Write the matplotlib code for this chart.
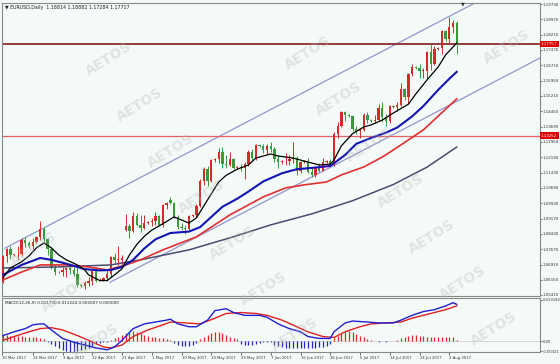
import numpy as np
import matplotlib
matplotlib.use("Agg")
import matplotlib.pyplot as plt

# EURUSD daily, 15 Mar - 4 Aug 2017 (the feed has short Sunday bars)
opens = [1.0605, 1.0733, 1.0765, 1.0740, 1.0742, 1.0745, 1.0810, 1.0795, 1.0782,
         1.0800, 1.0825, 1.0865, 1.0815, 1.0765, 1.0675,
         1.0652, 1.0655, 1.0665, 1.0675, 1.0662, 1.0645,
         1.0590, 1.0585, 1.0600, 1.0610, 1.0660, 1.0612,
         1.0615, 1.0625, 1.0645, 1.0730, 1.0715, 1.0715,
         1.0860, 1.0880, 1.0855, 1.0930, 1.0885, 1.0870,
         1.0895, 1.0900, 1.0905, 1.0930, 1.0885, 1.0985,
         1.1010, 1.0995, 1.0925, 1.0875, 1.0870, 1.0865,
         1.0930, 1.0935, 1.0980, 1.1100, 1.1160, 1.1100,
         1.1205, 1.1210, 1.1245, 1.1185, 1.1180, 1.1210,
         1.1165, 1.1170, 1.1165, 1.1185, 1.1245, 1.1215,
         1.1280, 1.1275, 1.1255, 1.1275, 1.1260, 1.1210,
         1.1195, 1.1200, 1.1200, 1.1210, 1.1215, 1.1150,
         1.1195, 1.1200, 1.1145, 1.1130, 1.1165, 1.1150,
         1.1195, 1.1200, 1.1180, 1.1335, 1.1375, 1.1440,
         1.1425, 1.1420, 1.1360, 1.1350, 1.1355, 1.1425,
         1.1400, 1.1395, 1.1400, 1.1460, 1.1415, 1.1395,
         1.1470, 1.1465, 1.1475, 1.1555, 1.1515, 1.1630,
         1.1665, 1.1660, 1.1645, 1.1645, 1.1735, 1.1680,
         1.1750, 1.1755, 1.1840, 1.1800, 1.1860, 1.18814]
highs = [1.0740, 1.0770, 1.0780, 1.0745, 1.0780, 1.0820, 1.0825, 1.0805, 1.0820,
         1.0830, 1.0906, 1.0875, 1.0820, 1.0775, 1.0695,
         1.0660, 1.0680, 1.0680, 1.0700, 1.0680, 1.0680,
         1.0595, 1.0610, 1.0630, 1.0665, 1.0680, 1.0625,
         1.0630, 1.0670, 1.0735, 1.0750, 1.0780, 1.0740,
         1.0940, 1.0890, 1.0950, 1.0945, 1.0935, 1.0935,
         1.0905, 1.0920, 1.0950, 1.0935, 1.0990, 1.1000,
         1.1025, 1.1000, 1.0935, 1.0895, 1.0885, 1.0935,
         1.0940, 1.0990, 1.1110, 1.1170, 1.1175, 1.1210,
         1.1215, 1.1265, 1.1270, 1.1230, 1.1245, 1.1215,
         1.1175, 1.1185, 1.1195, 1.1255, 1.1260, 1.1285,
         1.1285, 1.1285, 1.1285, 1.1295, 1.1270, 1.1230,
         1.1205, 1.1240, 1.1230, 1.1295, 1.1225, 1.1200,
         1.1205, 1.1215, 1.1165, 1.1175, 1.1190, 1.1215,
         1.1205, 1.1210, 1.1345, 1.1390, 1.1445, 1.1445,
         1.1430, 1.1425, 1.1375, 1.1365, 1.1435, 1.1440,
         1.1405, 1.1425, 1.1480, 1.1490, 1.1430, 1.1475,
         1.1475, 1.1490, 1.1585, 1.1560, 1.1635, 1.1680,
         1.1670, 1.1680, 1.1660, 1.1740, 1.1777, 1.1765,
         1.1760, 1.1845, 1.1845, 1.1910, 1.1893, 1.18882]
lows = [1.0600, 1.0705, 1.0720, 1.0735, 1.0715, 1.0735, 1.0775, 1.0770, 1.0765,
        1.0798, 1.0812, 1.0800, 1.0740, 1.0670, 1.0640,
        1.0648, 1.0635, 1.0630, 1.0645, 1.0635, 1.0580,
        1.0580, 1.0570, 1.0585, 1.0590, 1.0605, 1.0608,
        1.0612, 1.0610, 1.0630, 1.0700, 1.0690, 1.0680,
        1.0855, 1.0820, 1.0850, 1.0880, 1.0850, 1.0865,
        1.0890, 1.0880, 1.0885, 1.0880, 1.0875, 1.0965,
        1.0990, 1.0920, 1.0865, 1.0860, 1.0840, 1.0860,
        1.0925, 1.0925, 1.0975, 1.1080, 1.1075, 1.1095,
        1.1195, 1.1190, 1.1165, 1.1165, 1.1175, 1.1160,
        1.1160, 1.1150, 1.1110, 1.1175, 1.1205, 1.1205,
        1.1270, 1.1240, 1.1235, 1.1245, 1.1195, 1.1165,
        1.1185, 1.1180, 1.1180, 1.1190, 1.1130, 1.1140,
        1.1190, 1.1140, 1.1120, 1.1120, 1.1145, 1.1150,
        1.1190, 1.1175, 1.1175, 1.1315, 1.1370, 1.1395,
        1.1415, 1.1350, 1.1335, 1.1315, 1.1350, 1.1385,
        1.1390, 1.1385, 1.1395, 1.1390, 1.1375, 1.1385,
        1.1460, 1.1445, 1.1470, 1.1500, 1.1480, 1.1620,
        1.1655, 1.1610, 1.1610, 1.1605, 1.1650, 1.1675,
        1.1745, 1.1725, 1.1790, 1.1780, 1.1830, 1.17284]
closes = [1.0733, 1.0765, 1.0740, 1.0742, 1.0745, 1.0810, 1.0795, 1.0782, 1.0800,
          1.0825, 1.0865, 1.0815, 1.0765, 1.0675, 1.0652,
          1.0655, 1.0665, 1.0675, 1.0662, 1.0645, 1.0590,
          1.0585, 1.0600, 1.0610, 1.0660, 1.0612, 1.0615,
          1.0625, 1.0645, 1.0730, 1.0715, 1.0715, 1.0725,
          1.0880, 1.0855, 1.0930, 1.0885, 1.0870, 1.0895,
          1.0900, 1.0905, 1.0930, 1.0885, 1.0985, 1.0995,
          1.0995, 1.0925, 1.0875, 1.0870, 1.0865, 1.0930,
          1.0935, 1.0980, 1.1100, 1.1160, 1.1100, 1.1205,
          1.1210, 1.1245, 1.1185, 1.1180, 1.1210, 1.1165,
          1.1170, 1.1165, 1.1185, 1.1245, 1.1215, 1.1280,
          1.1275, 1.1255, 1.1275, 1.1260, 1.1210, 1.1195,
          1.1200, 1.1200, 1.1210, 1.1215, 1.1150, 1.1195,
          1.1200, 1.1145, 1.1130, 1.1165, 1.1150, 1.1195,
          1.1200, 1.1180, 1.1335, 1.1375, 1.1440, 1.1425,
          1.1420, 1.1360, 1.1350, 1.1355, 1.1425, 1.1400,
          1.1395, 1.1400, 1.1460, 1.1415, 1.1395, 1.1470,
          1.1465, 1.1475, 1.1555, 1.1515, 1.1630, 1.1665,
          1.1660, 1.1645, 1.1650, 1.1735, 1.1680, 1.1750,
          1.1755, 1.1840, 1.1800, 1.1860, 1.1881, 1.17717]

# moving averages (bar index, price)
fast_x = [0, 2, 5, 7, 9, 11, 13, 15, 17, 20, 22, 23, 26, 28, 30, 32, 34, 36, 38, 40,
          43, 46, 48, 50, 52, 55, 58, 60, 63, 66, 68, 72, 74, 78, 81, 85, 88, 89,
          91, 94, 97, 99, 102, 105, 109, 111, 114, 117, 119, 122]
fast_y = [1.0625, 1.0674, 1.0704, 1.0733, 1.0773, 1.0797, 1.0773, 1.0738, 1.0714,
          1.0689, 1.0664, 1.0640, 1.0612, 1.0612, 1.0640, 1.0670, 1.0738, 1.0790,
          1.0830, 1.0860, 1.0892, 1.0925, 1.0910, 1.0895, 1.0920, 1.1009, 1.1097,
          1.1130, 1.1160, 1.1181, 1.1215, 1.1235, 1.1225, 1.1215, 1.1200, 1.1181,
          1.1185, 1.1205, 1.1275, 1.1335, 1.1368, 1.1378, 1.1402, 1.1437, 1.1480,
          1.1530, 1.1599, 1.1663, 1.1722, 1.1781]
mid_x = [0, 5, 10, 13, 17, 22, 26, 29, 32, 35, 38, 41, 45, 50, 53, 56, 59, 63, 66,
         70, 75, 79, 84, 88, 92, 95, 99, 103, 106, 110, 113, 117, 120, 122]
mid_y = [1.0640, 1.0689, 1.0723, 1.0714, 1.0695, 1.0668, 1.0662, 1.0664, 1.0679,
         1.0714, 1.0770, 1.0815, 1.0846, 1.0853, 1.0875, 1.0925, 1.0975, 1.1015,
         1.1050, 1.1100, 1.1140, 1.1160, 1.1168, 1.1176, 1.1230, 1.1285, 1.1314,
         1.1340, 1.1365, 1.1420, 1.1470, 1.1550, 1.1605, 1.1639]
slow_x = [0, 5, 10, 17, 23, 28, 33, 37, 43, 52, 61, 70, 76, 81, 87, 91, 97, 102,
          105, 113, 122]
slow_y = [1.0615, 1.0654, 1.0689, 1.0689, 1.0679, 1.0664, 1.0689, 1.0714, 1.0763,
          1.0827, 1.0935, 1.1024, 1.1068, 1.1083, 1.1097, 1.1132, 1.1171, 1.1220,
          1.1255, 1.1353, 1.1506]
long_x = [0, 15, 29, 37, 50, 61, 72, 83, 94, 105, 114, 122]
long_y = [1.0674, 1.0679, 1.0689, 1.0714, 1.0763, 1.0822, 1.0886, 1.0940, 1.1005,
          1.1085, 1.1170, 1.1269]

# trend channel anchors
chan_up_x = [0.5, 145]
chan_up_y = [1.0771, 1.2151]
chan_lo_x = [28.8, 145]
chan_lo_y = [1.0604, 1.1713]
bid_level = 1.17757
res_level = 1.13252

# MACD(12,26,9)
macd_x = [0, 3, 6, 8, 10, 11, 13, 16, 19, 22, 25, 28, 30, 32, 35, 38, 41, 44, 45, 47,
          50, 52, 55, 57, 60, 62, 65, 69, 71, 74, 77, 80, 82, 85, 88, 89, 92, 94, 98,
          101, 105, 107, 110, 113, 116, 119, 121, 122]
macd_y = [0.0018, 0.0030, 0.0040, 0.0052, 0.0055, 0.0055, 0.0036, 0.0009, -0.0003,
          -0.0012, -0.0021, -0.0027, -0.0018, 0.0003, 0.0040, 0.0055, 0.0061, 0.0067,
          0.0070, 0.0055, 0.0046, 0.0046, 0.0067, 0.0097, 0.0103, 0.0091, 0.0082,
          0.0082, 0.0076, 0.0055, 0.0040, 0.0030, 0.0015, 0.0009, 0.0009, 0.0030,
          0.0058, 0.0064, 0.0061, 0.0058, 0.0058, 0.0067, 0.0082, 0.0094, 0.0100,
          0.0112, 0.0122, 0.0117]
signal_x = [0, 3, 7, 10, 13, 16, 20, 23, 27, 29, 32, 35, 39, 43, 45, 49, 53, 57, 60,
            64, 68, 71, 75, 79, 82, 86, 89, 92, 96, 99, 103, 107, 110, 115, 119, 122]
signal_y = [0.0003, 0.0015, 0.0030, 0.0040, 0.0043, 0.0036, 0.0018, 0.0003, -0.0018,
            -0.0021, -0.0012, 0.0015, 0.0036, 0.0052, 0.0061, 0.0058, 0.0055, 0.0073,
            0.0088, 0.0091, 0.0088, 0.0082, 0.0067, 0.0046, 0.0030, 0.0015, 0.0012,
            0.0030, 0.0046, 0.0055, 0.0058, 0.0061, 0.0073, 0.0088, 0.0100, 0.0112]
# histogram, in units of 1e-4
hist_e4 = [21, 21, 18, 18, 18, 18, 15, 15, 12, 12, 9, 6,
           -3, -9, -15, -21, -27, -30, -33, -33, -30, -27, -24, -21, -15, -9, -6, -3,
           -3, 3, 9, 15, 21, 27, 30, 33, 30, 27, 21, 18, 15, 12, 9, 9, 6, 3,
           -6, -12, -15, -15, -15, -12, -6,
           6, 12, 21, 27, 30, 30, 27, 21, 15, 9, 6,
           -9, -12, -12, -12, -9, -6, -3, -3, -3,
           -12, -15, -18, -21, -21, -21, -21, -21, -21, -21, -21, -21, -18, -18, -15, -9,
           9, 18, 27, 30, 33, 30, 24, 18, 12,
           6, 3, 1, -1, 1, -1, 1, 1, 3,
           9, 12, 18, 21, 21, 18, 18, 15, 15, 15, 12, 12, 15, 15, 12, 5]

price_ticks = [1.19730, 1.18970, 1.18210, 1.17470, 1.16710, 1.15950, 1.15210, 1.14450,
               1.13690, 1.12950, 1.12190, 1.11430, 1.10690, 1.09930, 1.09170, 1.08430,
               1.07670, 1.06910, 1.06150, 1.05410]
date_pos = [-0.2, 8, 16, 24, 32, 40, 48, 56, 64, 72, 80, 88, 96, 104, 112, 120]
date_labels = ["10 Mar 2017", "24 Mar 2017", "3 Apr 2017", "12 Apr 2017", "21 Apr 2017",
               "1 May 2017", "10 May 2017", "19 May 2017", "29 May 2017", "7 Jun 2017",
               "16 Jun 2017", "26 Jun 2017", "5 Jul 2017", "14 Jul 2017", "24 Jul 2017",
               "2 Aug 2017"]

W, H = 560, 364
BG = "#f3faf8"
UP = "#d42a2a"
DOWN = "#3a9a3a"
LBL = 2.9   # MT4 axis text is tiny


def px_box(left, top, right, bottom):
    return [left / W, 1 - bottom / H, (right - left) / W, (bottom - top) / H]


fig = plt.figure(figsize=(W / 100, H / 100), dpi=100, facecolor=BG)
ax = fig.add_axes(px_box(2, 3, 540, 296), facecolor=BG)
mx = fig.add_axes(px_box(2, 298, 540, 352), facecolor=BG)

o = np.array(opens)
h = np.array(highs)
l = np.array(lows)
c = np.array(closes)
x = np.arange(len(o))
col = np.where(c >= o, UP, DOWN)

# candles
ax.vlines(x, l, h, colors=col, lw=0.7, zorder=3)
body = np.maximum(np.abs(c - o), 0.00025)
ax.bar(x, body, bottom=np.minimum(o, c), width=0.62, color=col, lw=0, zorder=3)

# channel, levels and averages
ax.plot(chan_up_x, chan_up_y, color="#9494cc", lw=0.9, zorder=2)
ax.plot(chan_lo_x, chan_lo_y, color="#9494cc", lw=0.9, zorder=2)
ax.axhline(bid_level, color="#8e2c2c", lw=1.3, zorder=2)
ax.axhline(res_level, color="#e26262", lw=0.9, zorder=2)
ax.plot(long_x, long_y, color="#4c4c70", lw=1.1, zorder=4)
ax.plot(slow_x, slow_y, color="#e03030", lw=1.2, zorder=4)
ax.plot(mid_x, mid_y, color="#1414b4", lw=1.5, zorder=4)
ax.plot(fast_x, fast_y, color="#000000", lw=0.9, zorder=5)

ax.set_xlim(-0.27, 144.4)
ax.set_ylim(1.0536, 1.1978)
ax.set_xticks([])
ax.yaxis.tick_right()
ax.set_yticks(price_ticks)
ax.set_yticklabels([f"{v:.5f}" for v in price_ticks])
ax.tick_params(axis="y", length=1.5, width=0.5, labelsize=LBL, pad=0.6, colors="#333333")

ytr = ax.get_yaxis_transform()
for lvl in [bid_level, res_level]:
    ax.text(1.002, lvl, f"{lvl:.5f}", transform=ytr, fontsize=LBL, color="white",
            va="center", ha="left", zorder=10, clip_on=False,
            bbox=dict(boxstyle="square,pad=0.3", fc="#e00000", ec="none"))

fig.text(5 / W, 1 - 7 / H, "\u25bc EURUSD,Daily  1.18814 1.18882 1.17284 1.17717",
         fontsize=3.4, va="center", ha="left", color="#222222")
fig.text(463 / W, 1 - 4 / H, "\u25bc", fontsize=3.6, va="center", ha="center", color="#333333")

# MACD panel
hist = np.array(hist_e4) * 1e-4
hcol = np.where(hist >= 0, "#e02828", "#2424c0")
mx.vlines(x, 0, hist, colors=hcol, lw=0.9, zorder=3)
mx.axhline(0, color="#cccccc", lw=0.5, zorder=1)
mx.plot(signal_x, signal_y, color="#e02020", lw=1.0, zorder=4)
mx.plot(macd_x, macd_y, color="#2020d0", lw=1.0, zorder=5)
mx.set_xlim(-0.27, 144.4)
mx.set_ylim(-0.0034, 0.0137)
mx.yaxis.tick_right()
mx.set_yticks([0.0131, 0.0, -0.0031])
mx.set_yticklabels(["0.013182", "0.00", "-0.00321"])
mx.tick_params(axis="y", length=1.5, width=0.5, labelsize=2.7, pad=0.6, colors="#333333")
mx.set_xticks(date_pos)
mx.set_xticklabels(date_labels)
for lbl in mx.get_xticklabels():
    lbl.set_ha("left")
mx.tick_params(axis="x", length=2, width=0.5, labelsize=2.7, pad=1, colors="#333333")
mx.text(0.006, 0.95, "MACD(12,26,9) 0.011730 0.011224 0.000507 0.000000",
        transform=mx.transAxes, fontsize=3.0, va="top", ha="left", color="#222222")

for a in (ax, mx):
    for s in a.spines.values():
        s.set_color("#8a8a8a")
        s.set_linewidth(0.8)

# AETOS watermark lattice (only whole words inside the picture)
for i in range(-10, 11):
    for j in range(-4, 5):
        wx = 140 + 31 * i + 168 * j
        wy = 105 + 46 * i - 52 * j
        if 30 < wx < 525 and 20 < wy < 345:
            fig.text(wx / W, 1 - wy / H, "AETOS", fontsize=10, fontweight="bold",
                     color="#b8b8b8", alpha=0.33, rotation=32, ha="center", va="center")

fig.savefig("out.png", dpi=100, facecolor=BG)
